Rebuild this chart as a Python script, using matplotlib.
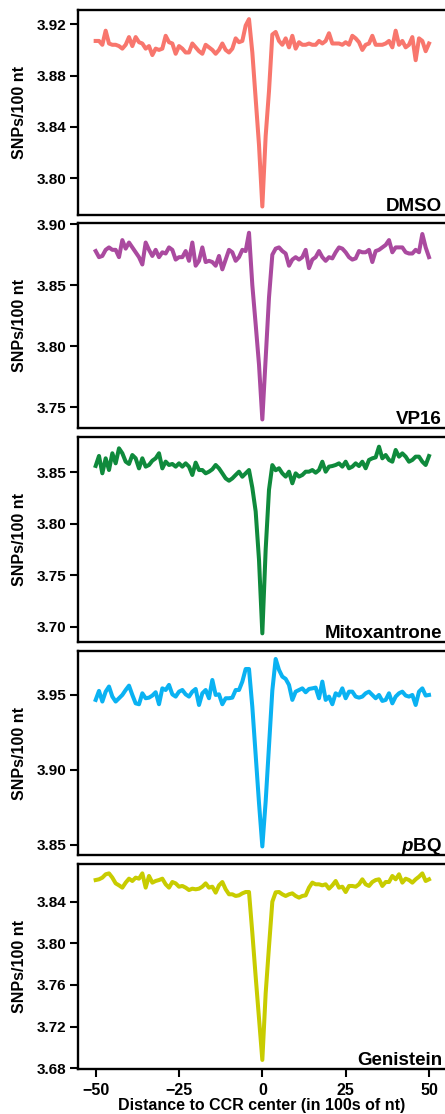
import numpy as np
import matplotlib
matplotlib.use("Agg")
import matplotlib.pyplot as plt

plt.rcParams['font.family'] = ['Liberation Sans', 'DejaVu Sans']
plt.rcParams['font.weight'] = 'bold'
plt.rcParams['mathtext.fontset'] = 'custom'
plt.rcParams['mathtext.it'] = 'Liberation Sans:italic:bold'
plt.rcParams['mathtext.rm'] = 'Liberation Sans:bold'

# Data: distance to CCR center (100s of nt)
distance = np.arange(-50, 51)

dmso = [3.907, 3.907, 3.904, 3.915, 3.905, 3.904, 3.904, 3.903, 3.901, 3.904,
        3.910, 3.903, 3.910, 3.906, 3.905, 3.901, 3.903, 3.896, 3.901, 3.900,
        3.901, 3.911, 3.906, 3.905, 3.897, 3.903, 3.901, 3.898, 3.898, 3.905,
        3.902, 3.899, 3.897, 3.904, 3.902, 3.900, 3.897, 3.900, 3.905, 3.900,
        3.898, 3.901, 3.909, 3.906, 3.907, 3.919, 3.924, 3.898, 3.862, 3.826,
        3.778, 3.833, 3.868, 3.912, 3.914, 3.907, 3.904, 3.909, 3.902, 3.911,
        3.901, 3.906, 3.904, 3.904, 3.905, 3.904, 3.904, 3.907, 3.905, 3.907,
        3.913, 3.905, 3.905, 3.905, 3.904, 3.906, 3.904, 3.911, 3.909, 3.906,
        3.900, 3.904, 3.905, 3.911, 3.904, 3.904, 3.904, 3.905, 3.907, 3.902,
        3.915, 3.904, 3.907, 3.902, 3.904, 3.910, 3.892, 3.909, 3.907, 3.899,
        3.905]

vp16 = [3.878, 3.873, 3.874, 3.879, 3.881, 3.879, 3.879, 3.873, 3.887, 3.880,
        3.885, 3.881, 3.877, 3.873, 3.867, 3.885, 3.879, 3.874, 3.879, 3.873,
        3.877, 3.876, 3.881, 3.879, 3.871, 3.873, 3.873, 3.878, 3.870, 3.885,
        3.866, 3.870, 3.881, 3.869, 3.870, 3.869, 3.866, 3.874, 3.863, 3.871,
        3.879, 3.877, 3.870, 3.873, 3.879, 3.878, 3.893, 3.850, 3.818, 3.785,
        3.740, 3.790, 3.840, 3.875, 3.880, 3.881, 3.878, 3.876, 3.866, 3.871,
        3.873, 3.871, 3.873, 3.879, 3.864, 3.871, 3.873, 3.878, 3.873, 3.870,
        3.873, 3.872, 3.877, 3.881, 3.880, 3.877, 3.873, 3.871, 3.872, 3.878,
        3.877, 3.877, 3.879, 3.869, 3.878, 3.879, 3.881, 3.883, 3.887, 3.877,
        3.881, 3.881, 3.881, 3.877, 3.876, 3.876, 3.879, 3.877, 3.892, 3.881,
        3.873]

mitoxantrone = [3.8562, 3.8659, 3.8490, 3.8636, 3.8522, 3.8685, 3.8587, 3.8733, 3.8685, 3.8604,
                3.8581, 3.8668, 3.8636, 3.8538, 3.8636, 3.8555, 3.8571, 3.8613, 3.8636, 3.8685,
                3.8538, 3.8604, 3.8571, 3.8581, 3.8555, 3.8587, 3.8555, 3.8587, 3.8555, 3.8474,
                3.8594, 3.8522, 3.8522, 3.8490, 3.8506, 3.8529, 3.8571, 3.8538, 3.8490, 3.8441,
                3.8418, 3.8441, 3.8474, 3.8506, 3.8457, 3.8490, 3.8522, 3.8350, 3.8120, 3.7650,
                3.6935, 3.7750, 3.8330, 3.8570, 3.8520, 3.8539, 3.8490, 3.8458, 3.8506, 3.8393,
                3.8490, 3.8458, 3.8474, 3.8506, 3.8506, 3.8522, 3.8496, 3.8522, 3.8603, 3.8506,
                3.8555, 3.8561, 3.8571, 3.8587, 3.8555, 3.8603, 3.8539, 3.8555, 3.8587, 3.8561,
                3.8603, 3.8539, 3.8620, 3.8636, 3.8645, 3.8749, 3.8636, 3.8668, 3.8620, 3.8603,
                3.8717, 3.8652, 3.8684, 3.8652, 3.8603, 3.8620, 3.8652, 3.8652, 3.8603, 3.8571,
                3.8658]

pbq = [3.9467, 3.9527, 3.9456, 3.9522, 3.9556, 3.9489, 3.9456, 3.9478, 3.9500, 3.9533,
       3.9562, 3.9500, 3.9444, 3.9438, 3.9511, 3.9478, 3.9482, 3.9496, 3.9518, 3.9438,
       3.9544, 3.9533, 3.9567, 3.9504, 3.9489, 3.9522, 3.9533, 3.9504, 3.9489, 3.9522,
       3.9540, 3.9433, 3.9511, 3.9533, 3.9478, 3.9600, 3.9500, 3.9504, 3.9438, 3.9478,
       3.9478, 3.9482, 3.9533, 3.9533, 3.9589, 3.9673, 3.9673, 3.9420, 3.9100, 3.8780,
       3.8490, 3.8790, 3.9160, 3.9530, 3.9740, 3.9667, 3.9622, 3.9607, 3.9567, 3.9467,
       3.9522, 3.9533, 3.9544, 3.9518, 3.9540, 3.9544, 3.9549, 3.9478, 3.9589, 3.9467,
       3.9489, 3.9438, 3.9511, 3.9496, 3.9544, 3.9478, 3.9522, 3.9522, 3.9489, 3.9482,
       3.9489, 3.9511, 3.9522, 3.9500, 3.9478, 3.9500, 3.9460, 3.9467, 3.9511, 3.9444,
       3.9489, 3.9511, 3.9522, 3.9496, 3.9489, 3.9500, 3.9433, 3.9522, 3.9544, 3.9496,
       3.9500]

genistein = [3.8608, 3.8615, 3.8631, 3.8663, 3.8672, 3.8631, 3.8576, 3.8557, 3.8535, 3.8583,
             3.8621, 3.8599, 3.8631, 3.8621, 3.8672, 3.8535, 3.8647, 3.8583, 3.8599, 3.8608,
             3.8621, 3.8567, 3.8535, 3.8589, 3.8576, 3.8544, 3.8551, 3.8535, 3.8512, 3.8525,
             3.8519, 3.8525, 3.8544, 3.8576, 3.8535, 3.8544, 3.8487, 3.8557, 3.8589, 3.8519,
             3.8471, 3.8471, 3.8455, 3.8461, 3.8480, 3.8493, 3.8493, 3.8100, 3.7680, 3.7280,
             3.6880, 3.7520, 3.7970, 3.8400, 3.8490, 3.8493, 3.8471, 3.8455, 3.8471, 3.8480,
             3.8455, 3.8439, 3.8455, 3.8461, 3.8535, 3.8583, 3.8567, 3.8567, 3.8557, 3.8567,
             3.8525, 3.8557, 3.8599, 3.8535, 3.8544, 3.8493, 3.8551, 3.8551, 3.8544, 3.8567,
             3.8615, 3.8567, 3.8551, 3.8589, 3.8608, 3.8615, 3.8551, 3.8589, 3.8589, 3.8647,
             3.8615, 3.8663, 3.8583, 3.8621, 3.8608, 3.8583, 3.8615, 3.8640, 3.8672, 3.8599,
             3.8615]

names = ['DMSO', 'VP16', 'Mitoxantrone', r'$\mathit{p}$BQ', 'Genistein']
series = [dmso, vp16, mitoxantrone, pbq, genistein]
colors = ['#F8766D', '#AA4A9F', '#0F8A3C', '#0AB2F2', '#C8CC00']
ylims = [(3.7714, 3.9311), (3.733, 3.901), (3.6851, 3.8843), (3.8433, 3.9793), (3.6793, 3.8762)]
yticks = [[3.80, 3.84, 3.88, 3.92],
          [3.75, 3.80, 3.85, 3.90],
          [3.70, 3.75, 3.80, 3.85],
          [3.85, 3.90, 3.95],
          [3.68, 3.72, 3.76, 3.80, 3.84]]
xticks = [-50, -25, 0, 25, 50]

W, H = 445, 1114
fig = plt.figure(figsize=(W / 100, H / 100), dpi=100)

# panel boxes in pixels (top, bottom)
boxes = [(10, 215), (223, 428), (437, 642), (651, 855), (864, 1069)]
left_px = 78

for i in range(5):
    top, bot = boxes[i]
    ax = fig.add_axes([left_px / W, 1 - bot / H, (W - left_px) / W, (bot - top) / H])
    ax.plot(distance, series[i], color=colors[i], lw=2.9, solid_joinstyle='round')
    ax.set_xlim(-55.3, 54.8)
    ax.set_ylim(*ylims[i])
    ax.set_yticks(yticks[i])
    ax.set_yticklabels(['%.2f' % t for t in yticks[i]])
    ax.spines['right'].set_visible(False)
    for s in ['left', 'top', 'bottom']:
        ax.spines[s].set_linewidth(1.7)
    ax.tick_params(axis='y', direction='out', length=5.5, width=1.5, pad=3, labelsize=11)
    ax.set_ylabel('SNPs/100 nt', fontsize=11.5, fontweight='bold')
    ax.yaxis.set_label_coords(-0.138, 0.5)
    ax.annotate(names[i], xy=(1, 0), xycoords='axes fraction', xytext=(-2.2, 3.1),
                textcoords='offset points', ha='right', va='baseline',
                fontsize=13.5, fontweight='bold')
    if i < 4:
        ax.set_xticks([])
    else:
        ax.set_xticks(xticks)
        ax.set_xticklabels(['\u2212%d' % abs(t) if t < 0 else '%d' % t for t in xticks])
        ax.tick_params(axis='x', direction='out', length=5.5, width=1.5, pad=4.5, labelsize=11.5)
        ax.set_xlabel('Distance to CCR center (in 100s of nt)', fontsize=11.5,
                      fontweight='bold', labelpad=0)

fig.savefig('out.png', dpi=100)
